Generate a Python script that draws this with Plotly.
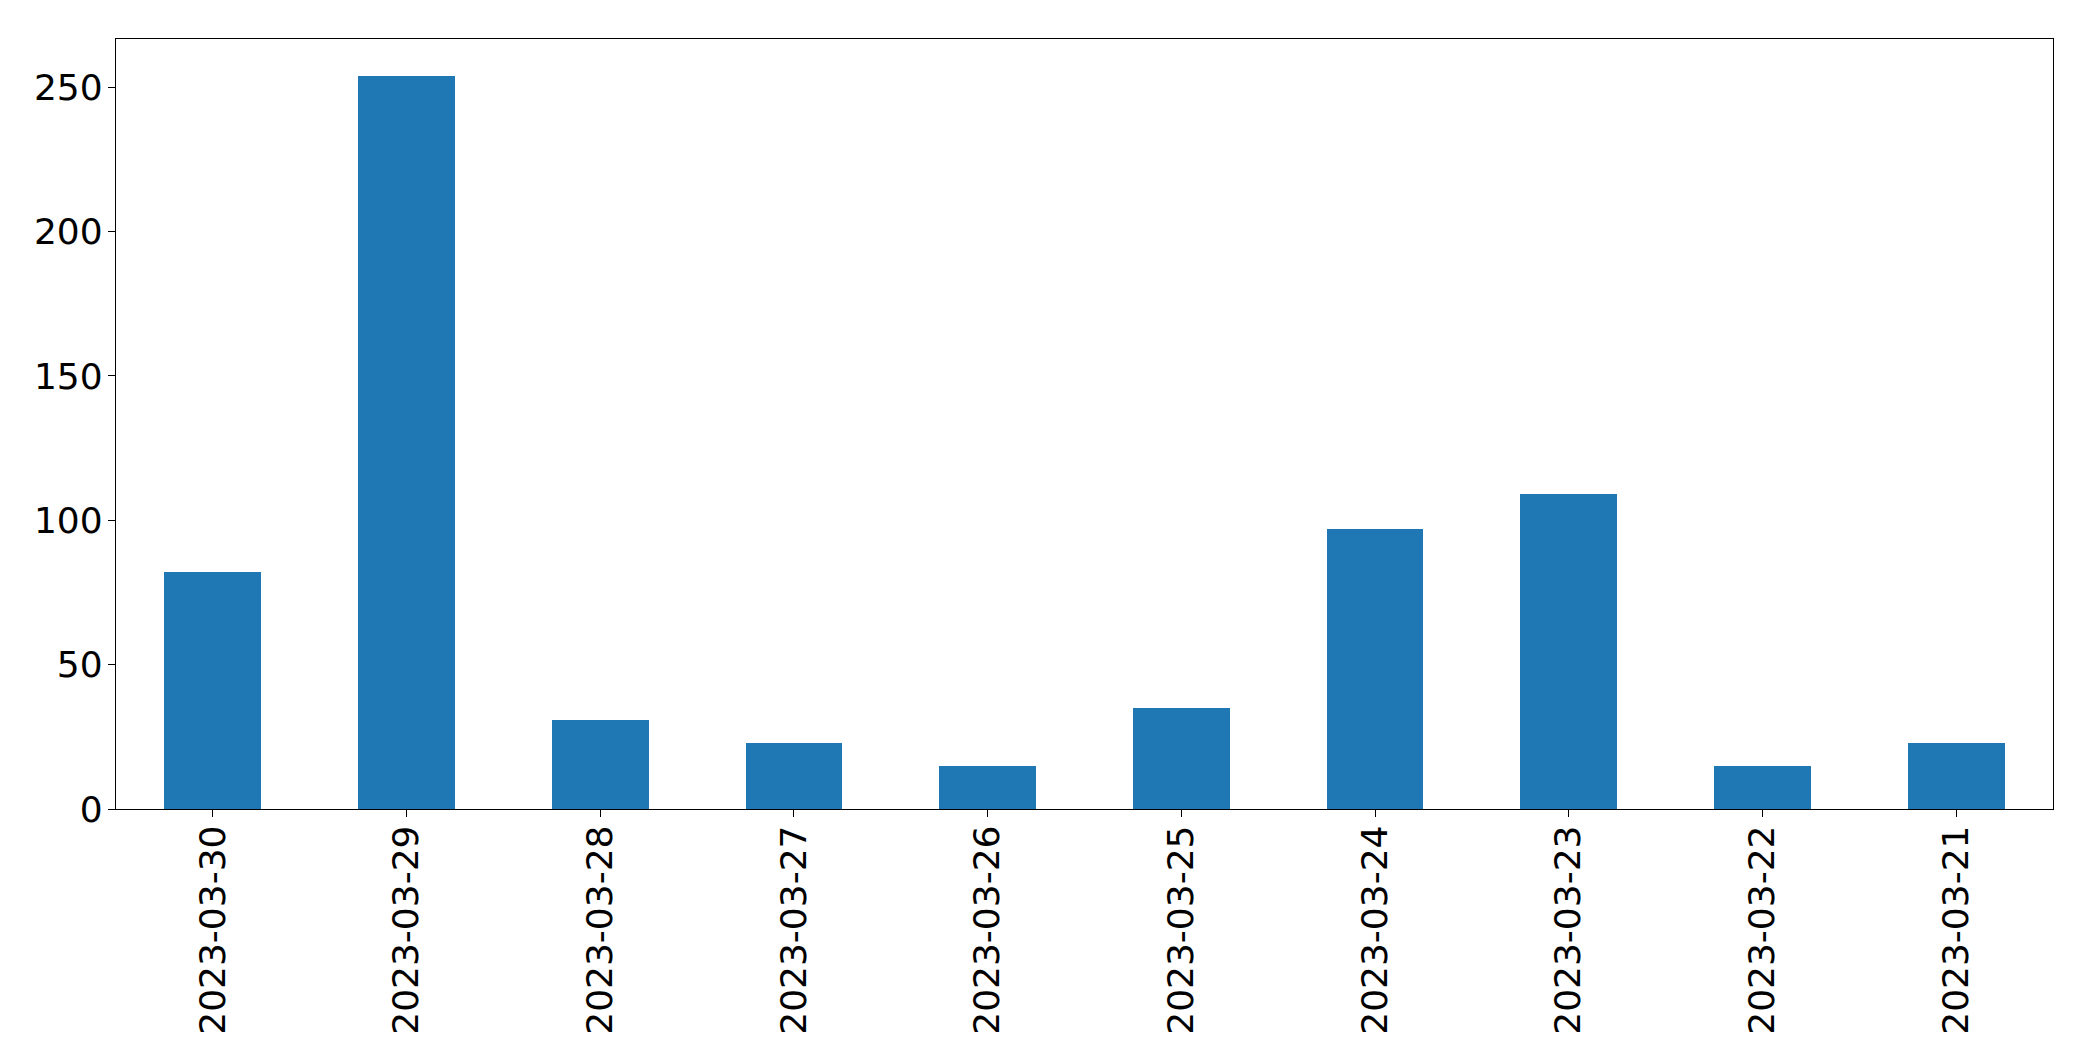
import plotly.graph_objects as go

dates = ["2023-03-30", "2023-03-29", "2023-03-28", "2023-03-27", "2023-03-26",
         "2023-03-25", "2023-03-24", "2023-03-23", "2023-03-22", "2023-03-21"]
counts = [82, 254, 31, 23, 15, 35, 97, 109, 15, 23]
y_ticks = [0, 50, 100, 150, 200, 250]

fig = go.Figure()
fig.add_trace(go.Bar(x=dates, y=counts, width=0.5, marker=dict(color="#1f77b4", line=dict(width=0))))

font = dict(family="DejaVu Sans", size=36, color="black")
fig.update_layout(
    width=2093, height=1061,
    margin=dict(l=116, r=40, t=39, b=252, pad=0),
    plot_bgcolor="white", paper_bgcolor="white",
    showlegend=False, bargap=0,
    font=font,
)
fig.update_xaxes(
    type="category", range=[-0.5, 9.5],
    showline=True, linecolor="black", linewidth=1.3, mirror=True,
    ticks="outside", ticklen=7, tickwidth=1.3, tickcolor="black",
    tickangle=-90, showgrid=False, tickfont=font, ticklabelstandoff=-6,
)
fig.update_yaxes(
    range=[0, 266.7], tickvals=y_ticks, ticktext=[str(v) for v in y_ticks],
    showline=True, linecolor="black", linewidth=1.3, mirror=True,
    ticks="outside", ticklen=7, tickwidth=1.3, tickcolor="black",
    showgrid=False, zeroline=False, tickfont=font, ticklabelstandoff=-2,
)
fig.write_html("out.html")
